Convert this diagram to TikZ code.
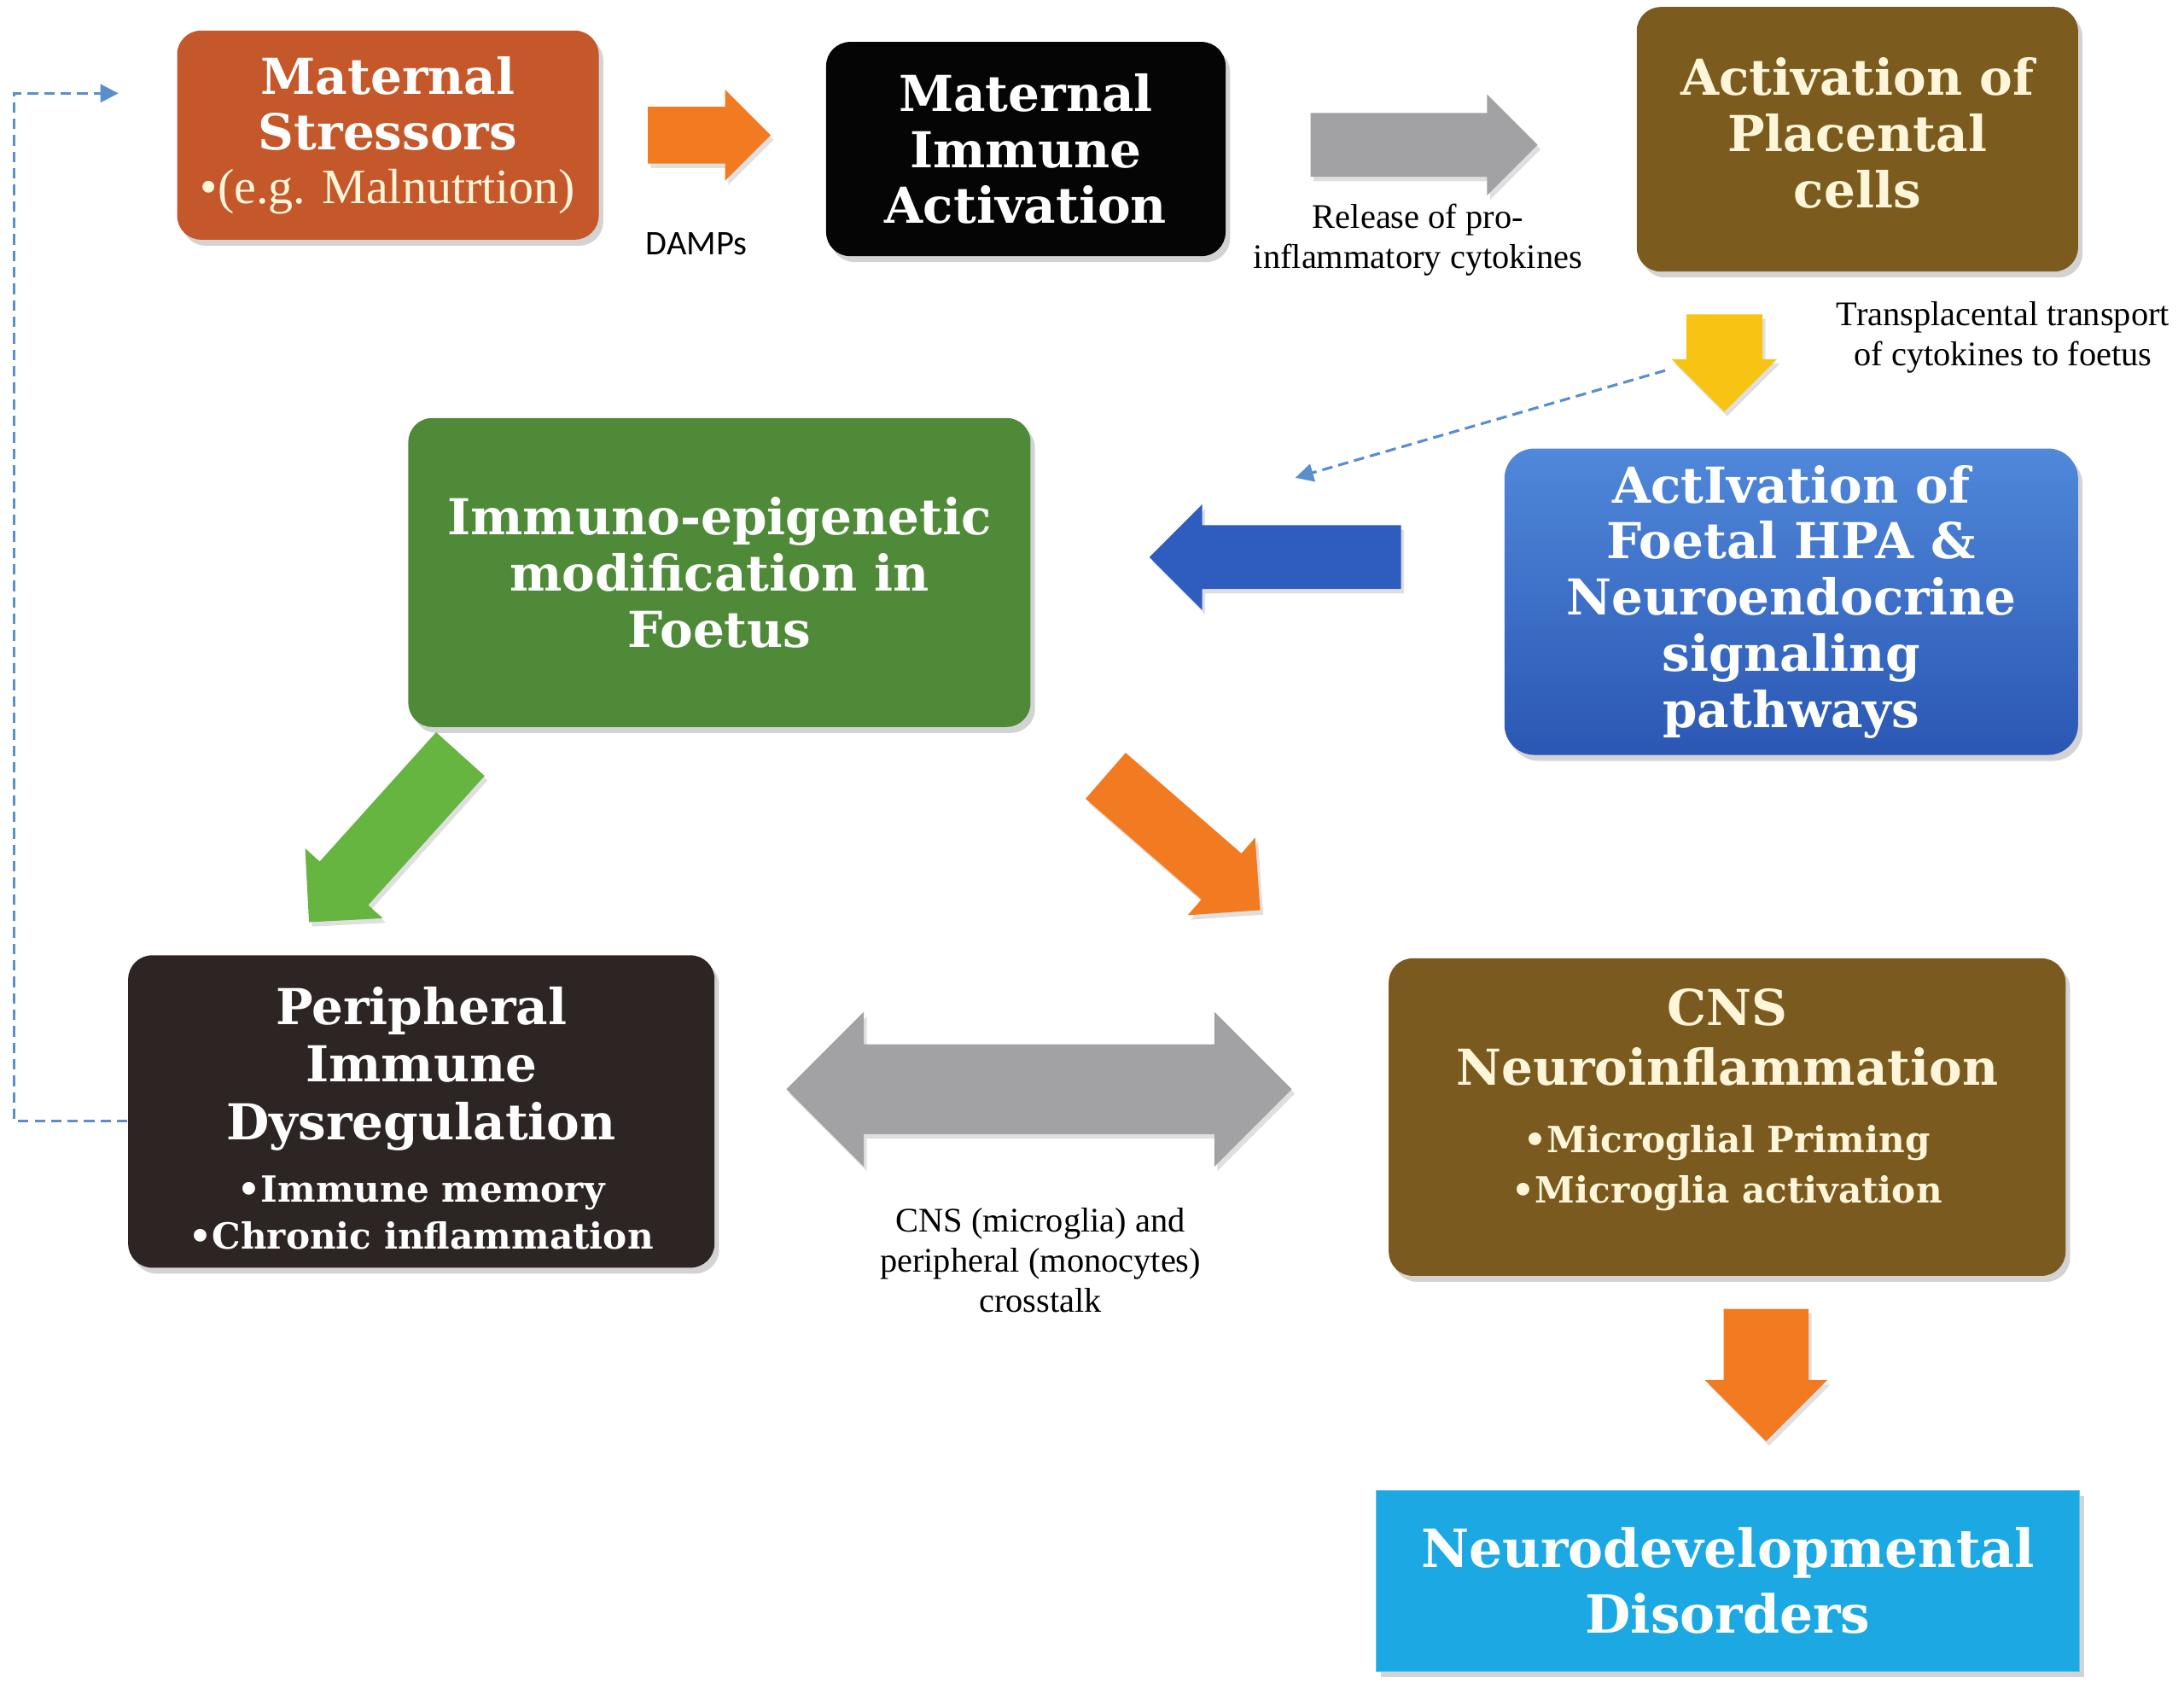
\documentclass[tikz,border=0pt]{standalone}
\usepackage{fontspec}
\setmainfont{Liberation Serif}
\newfontfamily\headfont{DejaVu Serif}
\newfontfamily\damfont{Carlito}
\usetikzlibrary{shapes.arrows, shadows, arrows.meta}

\definecolor{stressbg}{HTML}{C4582B}
\definecolor{miabg}{HTML}{050505}
\definecolor{placbg}{HTML}{7B5B1E}
\definecolor{hpatop}{HTML}{5088DA}
\definecolor{hpabot}{HTML}{2A57B3}
\definecolor{epibg}{HTML}{4E8A38}
\definecolor{peribg}{HTML}{2C2523}
\definecolor{cnsbg}{HTML}{7A5A1F}
\definecolor{nddbg}{HTML}{1BA8E3}
\definecolor{cream}{HTML}{FFF6DA}
\definecolor{arrorange}{HTML}{F27B22}
\definecolor{arrgray}{HTML}{A2A2A4}
\definecolor{arryellow}{HTML}{F8C414}
\definecolor{arrblue}{HTML}{2E5DBF}
\definecolor{arrgreen}{HTML}{65B540}
\definecolor{dashblue}{HTML}{5A8FCB}

\tikzstyle{box} = [rectangle, rounded corners=8pt, align=center, text=white, inner sep=2pt, drop shadow={opacity=0.35, shadow xshift=1.5pt, shadow yshift=-2pt}, font=\headfont\bfseries\fontsize{16.5}{18.7}\selectfont]
\tikzstyle{blockarrow} = [single arrow, draw=none, inner xsep=0pt, drop shadow={opacity=0.25, shadow xshift=1pt, shadow yshift=-1.5pt}]
\tikzstyle{lbl} = [align=center, inner sep=1pt, font=\fontsize{11.5}{13.4}\selectfont]
\tikzstyle{dasharrow} = [draw=dashblue, line width=0.9pt, dash pattern=on 3.5pt off 2pt, -{Triangle[length=6pt, width=6pt]}]
\newcommand{\subline}{\fontsize{12}{15.5}\selectfont}

\begin{document}
\begin{tikzpicture}[x=0.1632mm, y=-0.1632mm]
    \useasboundingbox (0,0) rectangle (1568,1208);

    % top row
    \node (stress) [box, fill=stressbg, minimum width=49.4mm, minimum height=24.5mm] at (278.5,97) {Maternal\\Stressors\\[-1pt]{\rmfamily\mdseries\fontsize{16.5}{17}\selectfont\color{cream}•(e.g. Malnutrtion)}};
    \node (mia) [box, fill=miabg, minimum width=46.8mm, minimum height=25.1mm] at (736.5,107) {Maternal\\Immune\\Activation};
    \node (plac) [box, fill=placbg, text=cream, text depth=4.5pt, minimum width=51.7mm, minimum height=31mm] at (1333.5,100) {Activation of\\Placental\\cells};

    % middle row
    \node (hpa) [box, top color=hpatop, bottom color=hpabot, rounded corners=10pt, minimum width=67.2mm, minimum height=35.9mm] at (1286,432) {ActIvation of\\Foetal HPA \&\\Neuroendocrine\\signaling\\pathways};
    \node (epi) [box, fill=epibg, minimum width=72.9mm, minimum height=36.2mm] at (516.5,411) {Immuno-epigenetic\\modification in\\Foetus};

    % bottom rows
    \node (periph) [box, fill=peribg, minimum width=68.7mm, minimum height=36.6mm] at (302.5,798) {\rule{0pt}{17pt}Peripheral\\[0.5pt]Immune\\[0.5pt]Dysregulation\\[2pt]{\subline •Immune memory}\\[-3pt]{\subline •Chronic inflammation}};
    \node (cns) [box, fill=cnsbg, text=cream, text depth=14pt, minimum width=79.3mm, minimum height=37.2mm] at (1240,802) {CNS\\[1pt]Neuroinflammation\\[4pt]{\subline •Microglial Priming}\\[-2pt]{\subline •Microglia activation}};
    \node (ndd) [box, fill=nddbg, draw=nddbg!70!white, rounded corners=0pt, minimum width=82.4mm, minimum height=21.2mm, font=\headfont\bfseries\fontsize{17.5}{22}\selectfont] at (1240.5,1135) {Neurodevelopmental\\Disorders};

    % block arrows
    \node (a1) [blockarrow, fill=arrorange, minimum height=14.4mm, inner ysep=3.26mm, single arrow head extend=2mm] at (499,97) {};
    \node (a2) [blockarrow, fill=arrgray, minimum height=26.6mm, inner ysep=3.67mm, single arrow head extend=2.2mm] at (1011,104) {};
    \node (yel) [blockarrow, fill=arryellow, rotate=-90, minimum height=11.4mm, inner ysep=4.4mm, single arrow head extend=1.7mm] at (1238,247) {};
    \node (a4) [blockarrow, fill=arrblue, rotate=180, minimum height=29.5mm, inner ysep=3.67mm, single arrow head extend=2.45mm] at (927,400) {};
    \node (a5) [blockarrow, fill=arrgreen, rotate=-132, minimum height=26.5mm, inner ysep=3.75mm, single arrow head extend=2.3mm] at (284,593) {};
    \node (a6) [blockarrow, fill=arrorange, rotate=-41, minimum height=24mm, inner ysep=3.5mm, single arrow head extend=2.45mm] at (841,598) {};
    \node (a7) [double arrow, draw=none, fill=arrgray, inner xsep=0pt, inner ysep=5.2mm, minimum height=59.2mm, double arrow head extend=3.8mm, drop shadow={opacity=0.25, shadow xshift=1pt, shadow yshift=-1.5pt}] at (746,782) {};
    \node (a8) [blockarrow, fill=arrorange, rotate=-90, minimum height=15.5mm, inner ysep=4.9mm, single arrow head extend=2.2mm] at (1268,972) {};

    % arrow labels
    \node (damps) [lbl, font=\damfont\fontsize{11.5}{13}\selectfont] at (500,175) {DAMPs};
    \node (release) [lbl] at (1018,172) {Release of pro-\\inflammatory cytokines};
    \node (transp) [lbl] at (1438,242) {Transplacental transport\\of cytokines to foetus};
    \node (cross) [lbl] at (747,905) {CNS (microglia) and\\peripheral (monocytes)\\crosstalk};

    % dashed connectors
    \coordinate (fbcorner) at (10,67);
    \coordinate (fbtip) at (85,67);
    \coordinate (ttip) at (930,343);
    \draw [dasharrow] ([yshift=-1.1mm]periph.west) -| (fbcorner) -- (fbtip);
    \draw [dasharrow] ([xshift=-2.4mm, yshift=-3.1mm]yel.south) -- (ttip);

\end{tikzpicture}
\end{document}
